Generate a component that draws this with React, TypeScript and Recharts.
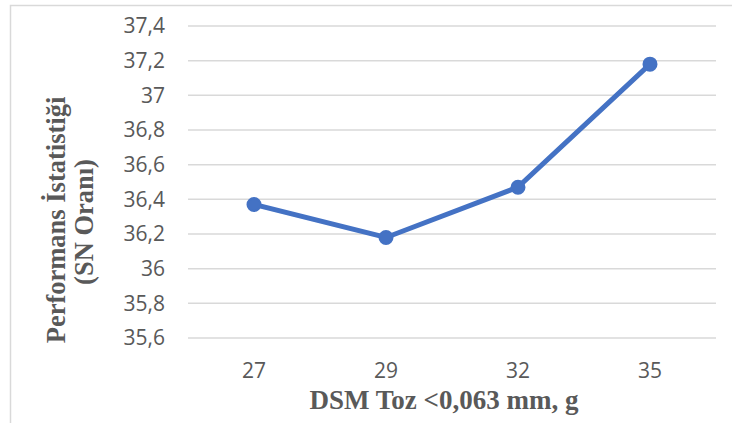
import { LineChart, Line, XAxis, YAxis, CartesianGrid } from 'recharts';

const categories = ['27', '29', '32', '35'];
const snValues = [36.37, 36.18, 36.47, 37.18];
const yTicks = [35.6, 35.8, 36, 36.2, 36.4, 36.6, 36.8, 37, 37.2, 37.4];

const data = categories.map((c, i) => ({ x: c, sn: snValues[i] }));

const tickStyle = { fill: '#595959', fontSize: 21, fontFamily: 'Open Sans' };
const titleFont = '"Liberation Serif", "Times New Roman", serif';

// Excel style decimal comma
const fmt = (v: number) => String(Math.round(v * 10) / 10).replace('.', ',');

export default function App() {
  return (
    <div style={{ position: 'absolute', left: 0, top: 0, width: 732, height: 423, background: '#fff' }}>
      <LineChart width={732} height={423} data={data} margin={{ top: 26, right: 16, bottom: 55, left: 0 }}>
        <CartesianGrid vertical={false} stroke="#d9d9d9" strokeWidth={1.5} />
        <XAxis
          dataKey="x"
          padding={{ left: 66, right: 66 }}
          axisLine={false}
          tickLine={false}
          tickSize={0}
          tickMargin={25}
          tick={tickStyle}
          height={30}
        />
        <YAxis
          domain={[35.6, 37.4]}
          ticks={yTicks}
          tickFormatter={fmt}
          axisLine={false}
          tickLine={false}
          tickSize={0}
          tickMargin={23}
          tick={tickStyle}
          width={188}
          interval={0}
        />
        <Line
          type="linear"
          dataKey="sn"
          stroke="#4472C4"
          strokeWidth={5}
          dot={{ r: 6.5, fill: '#4472C4', stroke: '#4472C4', strokeWidth: 2 }}
          isAnimationActive={false}
        />
      </LineChart>
      <svg width={732} height={423} style={{ position: 'absolute', left: 0, top: 0, pointerEvents: 'none' }}>
        <rect x={10.5} y={5.5} width={730} height={430} fill="none" stroke="#d9d9d9" strokeWidth={1.5} />
        <text
          transform="translate(65,220) rotate(-90)"
          textAnchor="middle"
          fill="#595959"
          fontSize={26.5}
          fontWeight="bold"
          fontFamily={titleFont}
        >
          Performans İstatistiği
        </text>
        <text
          transform="translate(93,222) rotate(-90)"
          textAnchor="middle"
          fill="#595959"
          fontSize={26.5}
          fontWeight="bold"
          fontFamily={titleFont}
        >
          (SN Oranı)
        </text>
        <text
          x={444}
          y={409}
          textAnchor="middle"
          fill="#595959"
          fontSize={27}
          fontWeight="bold"
          fontFamily={titleFont}
        >
          DSM Toz &lt;0,063 mm, g
        </text>
      </svg>
    </div>
  );
}
